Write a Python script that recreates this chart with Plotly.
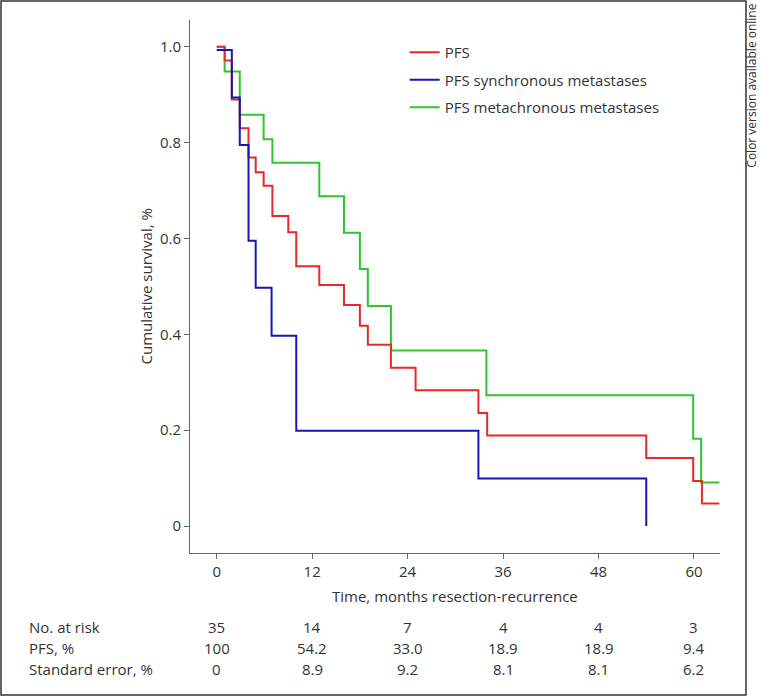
import plotly.graph_objects as go

# Kaplan-Meier step curves (time in months, survival fraction)
pfs_t = [0, 1.0, 1.9, 2.9, 4.0, 4.9, 5.9, 7.0, 9.0, 10.0, 12.9, 16.0, 18.0, 19.0,
         21.9, 25.0, 32.9, 34.0, 54.0, 59.9, 61.0, 63.2]
pfs_s = [1.0, 0.971, 0.89, 0.830, 0.769, 0.738, 0.710, 0.647, 0.613, 0.542, 0.503,
         0.461, 0.418, 0.378, 0.330, 0.283, 0.236, 0.189, 0.142, 0.094, 0.047, 0.047]

sync_t = [0, 1.9, 2.9, 4.0, 4.9, 6.9, 10.0, 32.9, 54.0]
sync_s = [0.993, 0.894, 0.795, 0.595, 0.497, 0.397, 0.199, 0.099, 0.0]

meta_t = [0, 1.0, 2.9, 5.9, 7.0, 12.9, 16.0, 18.0, 19.0, 21.9, 33.9, 59.9, 60.9, 63.2]
meta_s = [1.0, 0.948, 0.858, 0.807, 0.758, 0.688, 0.612, 0.536, 0.459, 0.366, 0.273,
          0.182, 0.091, 0.091]

# table under the x axis
table_times = [0, 12, 24, 36, 48, 60]
at_risk = ["35", "14", "7", "4", "4", "3"]
pfs_pct = ["100", "54.2", "33.0", "18.9", "18.9", "9.4"]
std_err = ["0", "8.9", "9.2", "8.1", "8.1", "6.2"]
row_labels = ["No. at risk", "PFS, %", "Standard error, %"]

FONT = "Open Sans"
TXT = "#333333"
AX = "#666666"
FS = 15

fig = go.Figure()

# drawing order: green under red under blue; legend order set by legendrank
fig.add_trace(go.Scatter(x=meta_t, y=meta_s, mode="lines", line_shape="hv",
                         line=dict(color="#2ec52e", width=2),
                         name="PFS metachronous metastases", legendrank=3,
                         legendgroup="c"))
fig.add_trace(go.Scatter(x=pfs_t, y=pfs_s, mode="lines", line_shape="hv",
                         line=dict(color="#e52a2a", width=2),
                         name="PFS", legendrank=1, legendgroup="a"))
fig.add_trace(go.Scatter(x=sync_t, y=sync_s, mode="lines", line_shape="hv",
                         line=dict(color="#1616b8", width=2),
                         name="PFS synchronous metastases", legendrank=2,
                         legendgroup="b"))

fig.update_layout(
    width=761, height=698,
    margin=dict(l=190, r=41, t=20, b=145),
    paper_bgcolor="white", plot_bgcolor="white",
    font=dict(family=FONT, size=FS, color=TXT),
    showlegend=True,
    legend=dict(x=0.405, y=0.97, xanchor="left", yanchor="top",
                bgcolor="rgba(0,0,0,0)", traceorder="grouped",
                tracegroupgap=5, font=dict(size=FS, color=TXT)),
    xaxis=dict(range=[-3.356, 63.27], tickvals=table_times,
               ticktext=[str(t) for t in table_times],
               showline=True, linecolor=AX, linewidth=1,
               ticks="outside", ticklen=5, tickcolor=AX,
               showgrid=False, zeroline=False,
               tickfont=dict(size=FS, color=TXT)),
    yaxis=dict(range=[-0.0563, 1.0557], tickvals=[0, 0.2, 0.4, 0.6, 0.8, 1.0],
               ticktext=["0", "0.2", "0.4", "0.6", "0.8", "1.0"],
               showline=True, linecolor=AX, linewidth=1,
               ticks="outside", ticklen=5, tickcolor=AX,
               showgrid=False, zeroline=False,
               tickfont=dict(size=FS, color=TXT)),
)

# outer frame
fig.add_shape(type="rect", xref="paper", yref="paper",
              x0=-0.3566, x1=1.049, y0=-0.2664, y1=1.0356,
              line=dict(color="#333333", width=1.5))

ann = []
ann.append(dict(text="Time, months resection-recurrence", xref="paper", yref="paper",
                x=0.5, y=-0.0807, xanchor="center", yanchor="middle",
                showarrow=False, font=dict(size=FS, color=TXT)))
ann.append(dict(text="Cumulative survival, %", xref="paper", yref="paper",
                x=-0.0849, y=0.5, xanchor="center", yanchor="middle",
                textangle=-90, showarrow=False, font=dict(size=FS, color=TXT)))
ann.append(dict(text="Color version available online", xref="paper", yref="paper",
                x=1.060, y=1.034, xanchor="center", yanchor="top",
                textangle=-90, showarrow=False, font=dict(size=12, color=TXT)))

row_y = [-0.1388, -0.1782, -0.2176]
for label, yy, vals in zip(row_labels, row_y, [at_risk, pfs_pct, std_err]):
    ann.append(dict(text=label, xref="paper", yref="paper", x=-0.3075, y=yy,
                    xanchor="left", yanchor="middle", showarrow=False,
                    font=dict(size=FS, color=TXT)))
    for t, v in zip(table_times, vals):
        ann.append(dict(text=v, xref="x", yref="paper", x=t, y=yy,
                        xanchor="center", yanchor="middle", showarrow=False,
                        font=dict(size=FS, color=TXT)))

fig.update_layout(annotations=ann)

# drop the browser's default body margin so the figure sits at the page corner
fig.write_html("out.html", config={"displayModeBar": False},
               post_script="document.body.style.margin='0';")
